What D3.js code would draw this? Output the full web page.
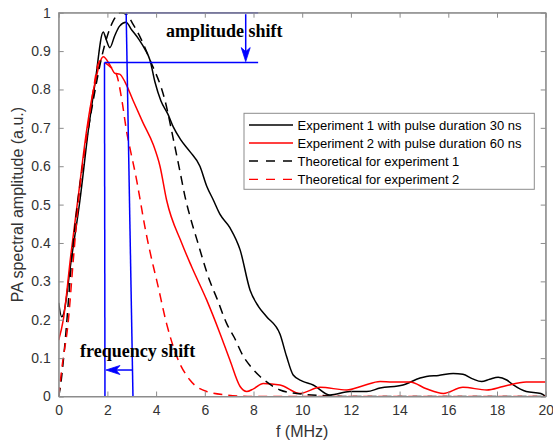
<!DOCTYPE html>
<html>
<head>
<meta charset="utf-8">
<script src="https://cdn.jsdelivr.net/npm/d3@7"></script>
<style>
  html, body { margin: 0; padding: 0; background: #fff; }
  svg { display: block; }
</style>
</head>
<body>
<svg id="chart" width="553" height="447"></svg>
<script>
// ---------------- data ----------------
const xTicks = [0, 2, 4, 6, 8, 10, 12, 14, 16, 18, 20];
const yTicks = [0, 0.1, 0.2, 0.3, 0.4, 0.5, 0.6, 0.7, 0.8, 0.9, 1];
const xTickLabels = ["0", "2", "4", "6", "8", "10", "12", "14", "16", "18", "20"];
const yTickLabels = ["0", "0.1", "0.2", "0.3", "0.4", "0.5", "0.6", "0.7", "0.8", "0.9", "1"];

const seriesNames = [
  "Experiment 1 with pulse duration 30 ns",
  "Experiment 2 with pulse duration 60 ns",
  "Theoretical for experiment 1",
  "Theoretical for experiment 2"
];

// Experiment 1 (black solid): [f (MHz), amplitude]
const exp1 = [
  [0, 0.244], [0.12, 0.208], [0.2, 0.215], [0.3, 0.25], [0.46, 0.33], [0.87, 0.51],
  [1.22, 0.695], [1.5, 0.82], [1.83, 0.95], [1.95, 0.93], [2.1, 0.909], [2.3, 0.94],
  [2.5, 0.965], [2.76, 0.975], [3.0, 0.955], [3.3, 0.93], [3.54, 0.905], [3.75, 0.876],
  [3.95, 0.82], [4.2, 0.77], [4.49, 0.735], [4.7, 0.703], [5.0, 0.67], [5.39, 0.638],
  [5.8, 0.6], [6.08, 0.548], [6.35, 0.512], [6.62, 0.475], [7.03, 0.44], [7.45, 0.382],
  [7.86, 0.277], [8.2, 0.235], [8.54, 0.208], [9.09, 0.162], [9.36, 0.104], [9.63, 0.056],
  [10.0, 0.04], [10.45, 0.03], [11.14, 0.004], [11.96, 0.013], [12.65, 0.013], [13.2, 0.022],
  [14.14, 0.03], [14.84, 0.048], [15.1, 0.052], [15.6, 0.055], [16.2, 0.06], [16.6, 0.058],
  [17.0, 0.046], [17.37, 0.039], [17.7, 0.045], [18.05, 0.05], [18.4, 0.043], [18.67, 0.03],
  [19.2, 0.013], [19.8, 0.008], [20, 0.0]
];

// Experiment 2 (red solid)
const exp2 = [
  [0, 0.147], [0.19, 0.2], [0.5, 0.37], [0.8, 0.52], [1.15, 0.695], [1.5, 0.82],
  [1.83, 0.885], [2.1, 0.864], [2.31, 0.842], [2.5, 0.84], [2.72, 0.82], [3.05, 0.772],
  [3.45, 0.715], [3.89, 0.655], [4.16, 0.6], [4.43, 0.512], [5.05, 0.4], [5.46, 0.338],
  [6.08, 0.251], [6.62, 0.165], [7.03, 0.095], [7.45, 0.026], [7.72, 0.013], [8.0, 0.02],
  [8.4, 0.034], [9.09, 0.03], [9.91, 0.008], [10.73, 0.024], [11.83, 0.017], [12.5, 0.028],
  [13.2, 0.039], [13.7, 0.038], [14.43, 0.038], [15.1, 0.02], [15.8, 0.008], [16.6, 0.024],
  [17.58, 0.017], [18.25, 0.026], [19.2, 0.038], [20, 0.038]
];

// Theoretical for experiment 1 (black dashed)
const theo1 = [
  [0, 0.0], [0.1, 0.04], [0.2, 0.1], [0.3, 0.17], [0.4, 0.25], [0.5, 0.33],
  [0.75, 0.49], [1.0, 0.61], [1.25, 0.71], [1.5, 0.8], [1.75, 0.88], [2.0, 0.94],
  [2.25, 0.98], [2.55, 1.0], [2.8, 0.995], [3.05, 0.97], [3.34, 0.937], [3.75, 0.877],
  [4.37, 0.77], [4.71, 0.67], [5.0, 0.58], [5.19, 0.52], [5.39, 0.47], [5.67, 0.41],
  [6.21, 0.3], [6.5, 0.255], [6.9, 0.19], [7.2, 0.155], [7.58, 0.105], [7.86, 0.08],
  [8.27, 0.052], [8.54, 0.038], [9.09, 0.017], [9.77, 0.008], [11, 0.002], [12, 0.0], [20, 0.0]
];

// Theoretical for experiment 2 (red dashed)
const theo2 = [
  [0, 0.0], [0.12, 0.069], [0.4, 0.2], [0.6, 0.356], [0.83, 0.52], [1.15, 0.68],
  [1.4, 0.79], [1.63, 0.868], [1.75, 0.877], [1.9, 0.87], [2.1, 0.86], [2.38, 0.838],
  [2.6, 0.77], [2.79, 0.69], [2.95, 0.64], [3.2, 0.564], [3.34, 0.514], [3.54, 0.442],
  [3.89, 0.338], [4.02, 0.304], [4.43, 0.19], [4.85, 0.104], [5.39, 0.043], [6.08, 0.013],
  [6.9, 0.004], [8, 0.0], [20, 0.0]
];

// annotation geometry in data units
const annoAmpTop = 1.0, annoAmpBottom = 0.87;
const annoPeak1 = [[2.77, 1.0], [3.05, 0.0]];
const annoPeak2 = [[1.88, 0.87], [1.9, 0.0]];
const annoHLineEnd = 8.19;
const annoAmpArrowX = 7.68;
const annoFreqArrowY = 0.069;

// ---------------- drawing ----------------
const svg = d3.select("#chart");
const margin = { left: 58.7, right: 553 - 545.7, top: 12.7, bottom: 447 - 396.5 };
const W = 553, H = 447;

const x = d3.scaleLinear().domain([0, 20]).range([margin.left, W - margin.right]);
const y = d3.scaleLinear().domain([0, 1]).range([H - margin.bottom, margin.top]);

const axisColor = "#8c8c8c";
const labelColor = "#333333";
const fontFam = "Arial, 'Liberation Sans', Helvetica, sans-serif";

svg.append("rect").attr("x", x(0)).attr("y", y(1))
  .attr("width", x(20) - x(0)).attr("height", y(0) - y(1))
  .attr("fill", "#fff");

svg.append("defs").append("clipPath").attr("id", "clip")
  .append("rect").attr("x", x(0)).attr("y", y(1) - 2)
  .attr("width", x(20) - x(0)).attr("height", y(0) - y(1) + 2);

const line = d3.line().x(d => x(d[0])).y(d => y(d[1])).curve(d3.curveMonotoneX);

const plots = svg.append("g").attr("clip-path", "url(#clip)");

const series = [
  { data: exp1, color: "#000000", dash: null },
  { data: exp2, color: "#ff0000", dash: null },
  { data: theo1, color: "#000000", dash: "9,6" },
  { data: theo2, color: "#ff0000", dash: "9,6" }
];

series.forEach(s => {
  plots.append("path").datum(s.data)
    .attr("d", line)
    .attr("fill", "none")
    .attr("stroke", s.color)
    .attr("stroke-width", 1.5)
    .attr("stroke-dasharray", s.dash);
});

// annotations (blue)
const blue = "#0000ff";
const ann = svg.append("g").attr("stroke", blue).attr("stroke-width", 1.5).attr("fill", "none");
ann.append("line").attr("x1", x(annoPeak1[0][0])).attr("y1", y(annoAmpTop))
  .attr("x2", x(annoHLineEnd)).attr("y2", y(annoAmpTop));
ann.append("line").attr("x1", x(annoPeak2[0][0])).attr("y1", y(annoAmpBottom))
  .attr("x2", x(annoHLineEnd)).attr("y2", y(annoAmpBottom));
ann.append("line").attr("x1", x(annoPeak1[0][0])).attr("y1", y(annoPeak1[0][1]))
  .attr("x2", x(annoPeak1[1][0])).attr("y2", y(annoPeak1[1][1]));
ann.append("line").attr("x1", x(annoPeak2[0][0])).attr("y1", y(annoPeak2[0][1]))
  .attr("x2", x(annoPeak2[1][0])).attr("y2", y(annoPeak2[1][1]));

// amplitude arrow (down)
const ax = x(annoAmpArrowX), ay1 = y(annoAmpTop) + 1.5, ay2 = y(annoAmpBottom) - 1;
ann.append("line").attr("x1", ax).attr("y1", ay1).attr("x2", ax).attr("y2", ay2 - 8);
svg.append("path")
  .attr("d", `M${ax},${ay2} L${ax - 4.5},${ay2 - 14} L${ax},${ay2 - 10} L${ax + 4.5},${ay2 - 14} Z`)
  .attr("fill", blue).attr("stroke", blue).attr("stroke-width", 0.8);

// frequency arrow (left)
const fy = y(annoFreqArrowY), fx1 = x(annoPeak1[1][0]) - 0.2, fx2 = x(annoPeak2[1][0]) + 1;
ann.append("line").attr("x1", fx1).attr("y1", fy).attr("x2", fx2 + 8).attr("y2", fy);
svg.append("path")
  .attr("d", `M${fx2},${fy} L${fx2 + 14},${fy - 4.5} L${fx2 + 10},${fy} L${fx2 + 14},${fy + 4.5} Z`)
  .attr("fill", blue).attr("stroke", blue).attr("stroke-width", 0.8);

// annotation texts
svg.append("text").attr("x", 166).attr("y", 37)
  .attr("font-family", "'Liberation Serif', 'Times New Roman', serif")
  .attr("font-weight", "bold").attr("font-size", 18).attr("fill", "#000")
  .text("amplitude shift");
svg.append("text").attr("x", 80).attr("y", 357)
  .attr("font-family", "'Liberation Serif', 'Times New Roman', serif")
  .attr("font-weight", "bold").attr("font-size", 18).attr("fill", "#000")
  .text("frequency shift");

// axes box
svg.append("rect").attr("x", x(0)).attr("y", y(1))
  .attr("width", x(20) - x(0)).attr("height", y(0) - y(1))
  .attr("fill", "none").attr("stroke", axisColor).attr("stroke-width", 1);

// axes via d3 (inward ticks)
const tickLen = 5;
const xAxisB = d3.axisBottom(x).tickValues(xTicks).tickFormat((d, i) => xTickLabels[i])
  .tickSizeInner(-tickLen).tickSizeOuter(0).tickPadding(9);
const xAxisT = d3.axisTop(x).tickValues(xTicks).tickFormat("")
  .tickSizeInner(-tickLen).tickSizeOuter(0);
const yAxisL = d3.axisLeft(y).tickValues(yTicks).tickFormat((d, i) => yTickLabels[i])
  .tickSizeInner(-tickLen).tickSizeOuter(0).tickPadding(8);
const yAxisR = d3.axisRight(y).tickValues(yTicks).tickFormat("")
  .tickSizeInner(-tickLen).tickSizeOuter(0);

function styleAxis(g) {
  g.select(".domain").attr("stroke", axisColor);
  g.selectAll(".tick line").attr("stroke", axisColor);
  g.selectAll(".tick text").attr("fill", labelColor)
    .attr("font-family", fontFam).attr("font-size", 14);
}
svg.append("g").attr("transform", `translate(0,${y(0)})`).call(xAxisB).call(styleAxis);
svg.append("g").attr("transform", `translate(0,${y(1)})`).call(xAxisT).call(styleAxis);
svg.append("g").attr("transform", `translate(${x(0)},0)`).call(yAxisL).call(styleAxis);
svg.append("g").attr("transform", `translate(${x(20)},0)`).call(yAxisR).call(styleAxis);

// axis titles
svg.append("text").attr("x", (x(0) + x(20)) / 2).attr("y", 437)
  .attr("text-anchor", "middle").attr("font-family", fontFam).attr("font-size", 16)
  .attr("fill", labelColor).text("f (MHz)");
svg.append("text")
  .attr("transform", `translate(23,${(y(0) + y(1)) / 2}) rotate(-90)`)
  .attr("text-anchor", "middle").attr("font-family", fontFam).attr("font-size", 16)
  .attr("fill", labelColor).text("PA spectral amplitude (a.u.)");

// legend
const lg = svg.append("g");
const lgX = 244, lgY = 113.3, lgW = 290.3, lgH = 76;
lg.append("rect").attr("x", lgX).attr("y", lgY).attr("width", lgW).attr("height", lgH)
  .attr("fill", "#fff").attr("stroke", "#8c8c8c").attr("stroke-width", 1);
const rowYs = [125, 143, 161, 179.3];
series.forEach((s, i) => {
  lg.append("line").attr("x1", 249).attr("x2", 293)
    .attr("y1", rowYs[i]).attr("y2", rowYs[i])
    .attr("stroke", s.color).attr("stroke-width", 1.3)
    .attr("stroke-dasharray", s.dash ? "9,8" : null);
  lg.append("text").attr("x", 297.5).attr("y", rowYs[i]).attr("dy", "0.35em")
    .attr("font-family", fontFam).attr("font-size", 13).attr("fill", "#000")
    .text(seriesNames[i]);
});
</script>
</body>
</html>
